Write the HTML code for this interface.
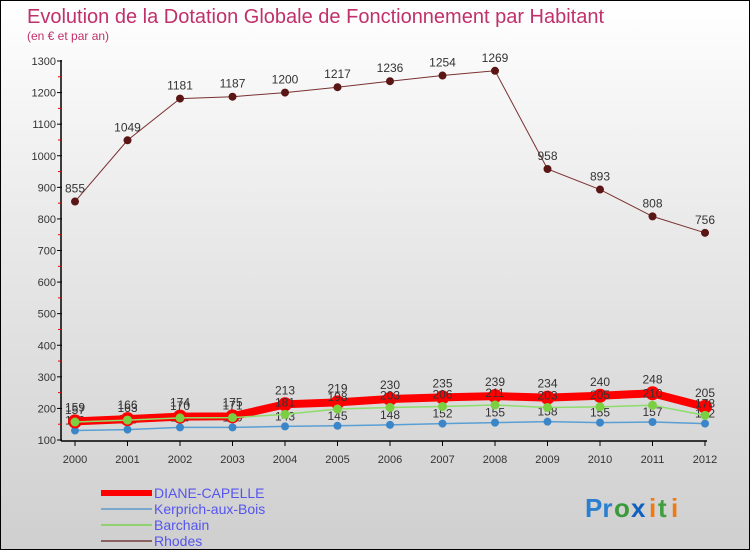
<!DOCTYPE html>
<html><head><meta charset="utf-8"><style>
body{margin:0;width:750px;height:550px;overflow:hidden;font-family:"Liberation Sans",sans-serif}
#wrap{position:relative;width:748px;height:548px;border:1px solid #000;background:linear-gradient(#fff 0%,#eaeaea 40%,#cfcfcf 100%)}
svg text{font-family:"Liberation Sans",sans-serif}
</style></head><body>
<div id="wrap">
<svg id="chart" width="748" height="548">
<text x="26" y="22" font-size="20" fill="#c0306a">Evolution de la Dotation Globale de Fonctionnement par Habitant</text>
<text x="26" y="39" font-size="12" fill="#c0306a">(en € et par an)</text>
<g id="axes"></g><g id="series"></g><g id="legend"></g>
<g font-size="26" font-weight="bold">
<text x="584" y="516" fill="#2a7fd0">Pr</text><text x="613" y="516" fill="#3a9a3a">o</text><text x="630" y="516" fill="#1060c0">x</text><text x="648" y="516" fill="#f07a10">i</text><text x="657" y="516" fill="#40a040">t</text><text x="670" y="516" fill="#f07a10">i</text>
</g>
</svg></div>
<script>
const years=[2000,2001,2002,2003,2004,2005,2006,2007,2008,2009,2010,2011,2012];
const diane=[159,166,174,175,213,219,230,235,239,234,240,248,205];
const kerprich=[130,133,140,140,143,145,148,152,155,158,155,157,152];
const barchain=[157,163,170,171,181,198,203,206,211,203,205,210,178];
const rhodes=[855,1049,1181,1187,1200,1217,1236,1254,1269,958,893,808,756];
const yTicks=[100,200,300,400,500,600,700,800,900,1000,1100,1200,1300];
const NS='http://www.w3.org/2000/svg';
const xS=i=>74+i*(630/12);
const yS=v=>439-(v-100)*(379/1200);
function mk(t,a,p){const e=document.createElementNS(NS,t);for(const k in a)e.setAttribute(k,a[k]);p.appendChild(e);return e;}
const ax=document.getElementById('axes');
mk('line',{x1:60,y1:59,x2:60,y2:440,stroke:'#000','stroke-width':1.5},ax);
mk('line',{x1:60,y1:440,x2:706,y2:440,stroke:'#000','stroke-width':1.5},ax);
yTicks.forEach(v=>{
 const t=mk('line',{x1:56,x2:61,y1:yS(v),y2:yS(v),stroke:'#000'},ax);
 
 
 const l=mk('text',{x:55,y:yS(v)+4,'font-size':11,'text-anchor':'end',fill:'#333'},ax);l.textContent=v;
 
 
 if(v<1300){mk('line',{x1:57,x2:60,y1:yS(v+50),y2:yS(v+50),stroke:'#e00'},ax);}
});
years.forEach((y,i)=>{
 mk('line',{x1:xS(i),x2:xS(i),y1:440,y2:445,stroke:'#000'},ax);
 const l=mk('text',{x:xS(i),y:462,'font-size':11,'text-anchor':'middle',fill:'#333'},ax);l.textContent=y;
 
 
});
const sg=document.getElementById('series');
function series(vals,name,color,w,r,dot,labels,dy){
 const g=mk('g',{},sg);
 
 
 mk('polyline',{points:vals.map((v,i)=>xS(i)+','+yS(v)).join(' '),fill:'none',stroke:color,'stroke-width':w},g);
 vals.forEach((v,i)=>{
  const c=mk('circle',{cx:xS(i),cy:yS(v),r:r,fill:dot},g);
  
  
  if(labels){const t=mk('text',{x:xS(i),y:yS(v)+dy,'font-size':12,'text-anchor':'middle',fill:'#333'},g);t.textContent=v;}
 });
}
series(kerprich,'kerprich','#5a9fd4',1.5,4,'#3a86c8',true,-6);
series(diane,'diane-capelle','#f00',8,7,'#f00',true,-10);
series(barchain,'barchain','#8edc6a',1.5,4.5,'#7ad040',true,-8);
series(rhodes,'rhodes','#7a3030',1,4,'#5a1515',true,-9);
const lg=document.getElementById('legend');
[['DIANE-CAPELLE','#f00',6],['Kerprich-aux-Bois','#7aa8cc',2],['Barchain','#90d070',2],['Rhodes','#8a6060',2]].forEach((d,i)=>{
 const y=492+i*16;
 const g=mk('g',{},lg);
 
 
 mk('line',{x1:100,x2:151,y1:y,y2:y,stroke:d[1],'stroke-width':d[2]},g);
 const t=mk('text',{x:153,y:y+5,'font-size':14,fill:'#5555ee'},g);t.textContent=d[0];
});
</script>
</body></html>
